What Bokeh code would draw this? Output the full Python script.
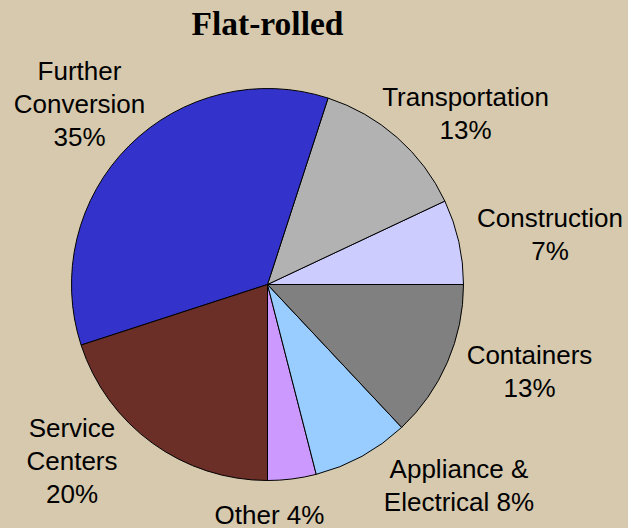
from bokeh.plotting import figure
from bokeh.models import ColumnDataSource
from bokeh.core.properties import value
from bokeh.embed import file_html
from bokeh.resources import INLINE
import math

# Data (counter-clockwise from 3 o'clock)
categories = ["Construction", "Transportation", "Further Conversion", "Service Centers",
              "Other", "Appliance & Electrical", "Containers"]
shares = [7, 13, 35, 20, 4, 8, 13]
labels = ["Construction\n7%", "Transportation\n13%", "Further\nConversion\n35%",
          "Service\nCenters\n20%", "Other 4%", "Appliance &\nElectrical 8%", "Containers\n13%"]
colors = ["#CCCCFF", "#B2B2B2", "#3333CC", "#6B2F28", "#CC99FF", "#99CCFF", "#808080"]

# Layout (pixel-like data coords)
BG = "#D6C9AD"
W, H = 628, 528
cx, cy, r = 267, 244, 196
label_x = [549.5, 465, 79, 71.5, 269, 458.5, 529]
label_y = [294, 415, 425, 68, 14, 43.5, 157]

total = float(sum(shares))
starts, ends = [], []
acc = 0.0
for s in shares:
    starts.append(2 * math.pi * acc / total)
    acc += s
    ends.append(2 * math.pi * acc / total)

src = ColumnDataSource(dict(cat=categories, start=starts, end=ends, color=colors))
lsrc = ColumnDataSource(dict(x=label_x, y=label_y, text=labels))

p = figure(width=W, height=H, x_range=(0, W), y_range=(0, H),
           output_backend="svg", toolbar_location=None, min_border=0)
p.axis.visible = False
p.grid.visible = False
p.outline_line_color = None
p.background_fill_color = BG
p.border_fill_color = BG

p.wedge(x=cx, y=cy, radius=r, start_angle="start", end_angle="end",
        fill_color="color", line_color="black", line_width=1, source=src)

p.text(x="x", y="y", text="text", source=lsrc, text_align="center",
       text_baseline="middle", text_font=value("Liberation Sans"),
       text_font_size="26px", text_line_height=1.1, text_color="black")

p.text(x=[267], y=[505], text=["Flat-rolled"], text_align="center",
       text_baseline="middle", text_font=value("Liberation Serif"),
       text_font_style="bold", text_font_size="33.5px", text_color="black")

html = file_html(p, INLINE)
html = html.replace("</head>", "<style>html,body{margin:0;padding:0;overflow:hidden;background-color:%s;}</style></head>" % BG, 1)
open("out.html", "w").write(html)
